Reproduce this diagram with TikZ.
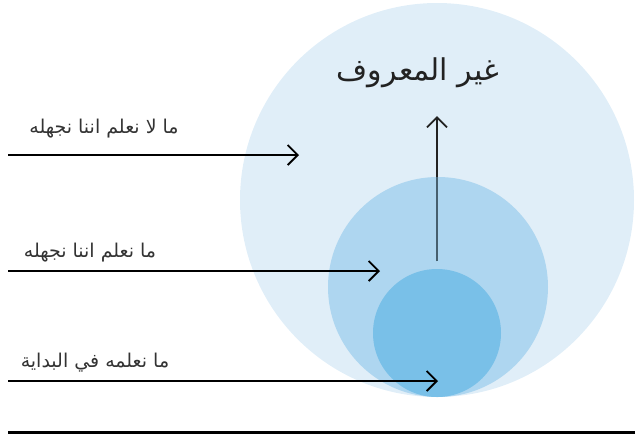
\documentclass[tikz,border=0pt]{standalone}
\usepackage{fontspec}
\newfontfamily\arabicfont[Script=Arabic]{DejaVu Sans}
\TeXXeTstate=1
\usetikzlibrary{arrows.meta}
\definecolor{cbig}{HTML}{E0EEF8}
\definecolor{cmid}{HTML}{AED6F0}
\definecolor{csmall}{HTML}{79C0E8}
\definecolor{arrowdark}{HTML}{222222}
\definecolor{textgray}{HTML}{333333}
\definecolor{arrowmid}{HTML}{46606F}
\tikzset{
  lbl/.style={font=\arabicfont\fontsize{19}{22}\selectfont, text=textgray, inner sep=0pt},
  ttl/.style={font=\arabicfont\fontsize{30}{34}\selectfont, text=arrowdark, inner sep=0pt},
  conn/.style={line width=2pt, -{Straight Barb[length=10pt,width=20pt,line width=1.8pt]}},
}
\begin{document}
\begin{tikzpicture}[x=1pt,y=-1pt]
\useasboundingbox (0,0) rectangle (635,437);
% circles
\fill[cbig] (437,200) circle (197);
\fill[cmid] (438,287) circle (110);
\fill[csmall] (437,333) circle (64);
% title
\node[ttl] (title) at (418,73) {\beginR غير المعروف\endR};
% labels
\node[lbl] (l1) at (104,129) {\beginR ما لا نعلم اننا نجهله\endR};
\node[lbl] (l2) at (90,253) {\beginR ما نعلم اننا نجهله\endR};
\node[lbl] (l3) at (95,363) {\beginR ما نعلمه في البداية\endR};
% arrow endpoints
\coordinate (s1) at (8,155);
\coordinate (e1) at (299,155);
\coordinate (s2) at (8,271);
\coordinate (e2) at (380,271);
\coordinate (s3) at (8,381);
\coordinate (e3) at (438,381);
\coordinate (vs) at (437,261);
\coordinate (vm) at (437,177);
\coordinate (ve) at (437,116);
\coordinate (bl) at (8,432);
\coordinate (br) at (635,432);
\draw[conn, black] (s1) -- (e1);
\draw[conn, black] (s2) -- (e2);
\draw[conn, black] (s3) -- (e3);
\draw[conn, arrowdark] (vs) -- (ve);
\draw[line width=2pt, arrowmid] (vs) -- (vm);
\draw[line width=3pt, black] (bl) -- (br);
\end{tikzpicture}
\end{document}
